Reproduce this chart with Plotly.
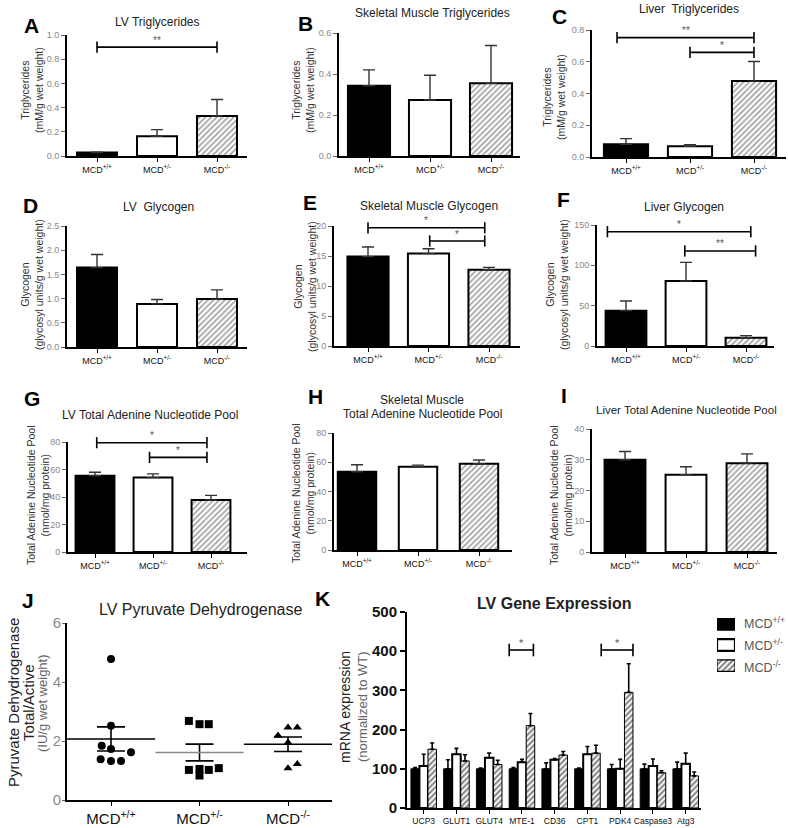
import plotly.graph_objects as go

W, H = 788, 828
FONT = "Arial, Liberation Sans, sans-serif"

groups = ["MCD<sup>+/+</sup>", "MCD<sup>+/-</sup>", "MCD<sup>-/-</sup>"]

# ---------------- data ----------------
lv_tg_mean = [0.028, 0.163, 0.331]
lv_tg_sem = [0.003, 0.055, 0.136]
sm_tg_mean = [0.343, 0.273, 0.355]
sm_tg_sem = [0.077, 0.121, 0.184]
liv_tg_mean = [0.080, 0.067, 0.478]
liv_tg_sem = [0.036, 0.011, 0.124]
lv_gly_mean = [1.64, 0.89, 0.99]
lv_gly_sem = [0.27, 0.09, 0.19]
sm_gly_mean = [14.9, 15.4, 12.7]
sm_gly_sem = [1.6, 0.8, 0.4]
liv_gly_mean = [43.8, 80.6, 10.3]
liv_gly_sem = [12.0, 23.1, 2.5]
lv_tan_mean = [55.4, 54.1, 37.8]
lv_tan_sem = [2.6, 2.7, 3.4]
sm_tan_mean = [53.5, 56.9, 59.0]
sm_tan_sem = [4.8, 1.1, 2.5]
liv_tan_mean = [30.0, 25.1, 28.9]
liv_tan_sem = [2.7, 2.6, 3.0]

# significance: (x_from, x_to, y, label)
sig_A = [(0, 2, 0.90, "**")]
sig_C = [(-0.14, 2.0, 0.752, "**"), (1.0, 2.0, 0.659, "*")]
sig_E = [(0, 1.93, 19.7, "*"), (1.02, 1.93, 17.5, "*")]
sig_F = [(-0.31, 2.08, 141.7, "*"), (0.98, 2.16, 117.8, "**")]
sig_G = [(0.03, 1.93, 79.5, "*"), (0.94, 1.93, 68.8, "*")]

# J: pyruvate dehydrogenase individual points
pdh_wt = [4.78, 2.52, 1.84, 1.73, 1.62, 1.38, 1.32, 1.32]
pdh_wt_jit = [0, 0, -0.105, 0, 0.226, -0.117, 0, 0.113]
pdh_het = [2.68, 2.57, 2.57, 1.05, 1.02, 1.02, 1.08, 0.83]
pdh_het_jit = [-0.12, 0, 0.105, 0, -0.12, 0.105, 0.218, 0]
pdh_ko = [2.19, 2.46, 2.46, 1.95, 1.08, 1.22]
pdh_ko_jit = [-0.113, 0, 0.105, 0, 0, 0.105]
pdh_mean = [2.07, 1.61, 1.89]
pdh_sem = [0.41, 0.285, 0.245]

# K: gene expression
genes = ["UCP3", "GLUT1", "GLUT4", "MTE-1", "CD36", "CPT1", "PDK4", "Caspase3", "Atg3"]
k_wt_mean = [100, 100, 100, 100, 100, 100, 100, 100, 100]
k_wt_sem = [3, 23, 2, 3, 15, 2, 11, 12, 17]
k_het_mean = [107, 137, 128, 117, 123, 137, 100, 107, 113]
k_het_sem = [30, 15, 12, 7, 3, 20, 24, 18, 27]
k_ko_mean = [150, 120, 111, 210, 135, 140, 295, 90, 82]
k_ko_sem = [16, 16, 11, 31, 9, 20, 73, 5, 10]
sig_K = [(3 - 0.39, 3 + 0.35, 403, "*"), (6 - 0.58, 6 + 0.39, 403, "*")]

# ---------------- geometry (pixels) ----------------
# left, right, top, bottom, first-centre, spacing, ymax, dtick, fmt
geo = {
    1: (67, 247, 35, 156, 97, 60, 1.0, 0.2, ".1f"),
    2: (339, 520, 33, 156, 369, 61, 0.6, 0.2, ".1f"),
    3: (592, 786, 30, 157, 626, 64, 0.8, 0.2, ".1f"),
    4: (67, 247, 226, 347, 97, 60, 2.5, 0.5, ".1f"),
    5: (334, 520, 226, 346, 368, 60.5, 20, 5, ""),
    6: (597, 774, 225, 346, 626, 60, 150, 50, ""),
    7: (68, 247, 442, 552, 95, 58, 80, 20, ""),
    8: (334, 512, 433, 550, 357, 61, 80, 20, ""),
    9: (592, 777, 429, 552, 625, 61, 40, 10, ""),
    10: (67, 332, 623, 800, 111, 88.5, 6, 2, ""),
    11: (407, 701, 612, 808, 423.7, 32.75, 500, 100, ""),
}

fig = go.Figure()
layout = dict(width=W, height=H, margin=dict(l=0, r=0, t=0, b=0, pad=0, autoexpand=False),
              autosize=False, showlegend=False,
              paper_bgcolor="white", plot_bgcolor="white", barmode="overlay",
              hovermode=False, font=dict(family=FONT, color="#222"))
annotations = []


def ax_names(i):
    return ("x" if i == 1 else f"x{i}"), ("y" if i == 1 else f"y{i}")


for i, g in geo.items():
    l, r, t, b, c0, sp, ymax, dt, fmt = g
    xa, ya = ax_names(i)
    xkey = "xaxis" if i == 1 else f"xaxis{i}"
    ykey = "yaxis" if i == 1 else f"yaxis{i}"
    big = i >= 10
    layout[xkey] = dict(domain=[l / W, r / W], anchor=ya,
                        range=[-(c0 - l) / sp, (r - c0) / sp], automargin=False,
                        showline=True, linecolor="black", linewidth=1.7 if not big else 2,
                        ticks="outside", ticklen=4, tickwidth=1.3, tickcolor="black",
                        showgrid=False, zeroline=False, fixedrange=True, tickangle=0,
                        tickfont=dict(size=9 if not big else (15 if i == 10 else 8.5), color="#111"))
    nt = int(round(ymax / dt))
    layout[ykey] = dict(domain=[1 - b / H, 1 - t / H], anchor=xa, range=[0, ymax],
                        tickvals=[k * dt for k in range(nt + 1)], automargin=False,
                        showline=True, linecolor="black", linewidth=1.7 if not big else 2,
                        ticks="outside", ticklen=4 if i != 11 else 5, tickwidth=1.3 if i != 11 else 2,
                        tickcolor="#666" if i != 11 else "black",
                        showgrid=False, zeroline=False, fixedrange=True,
                        tickfont=dict(size=9 if not big else 15,
                                      color="#888" if i != 11 else "#111",
                                      weight=700 if i == 11 else 400))
    if i == 10:
        layout[ykey]["ticklen"] = 3
        layout[ykey]["ticklabelstandoff"] = -2
    if fmt:
        layout[ykey]["tickformat"] = fmt
    if i <= 10:
        layout[xkey]["tickvals"] = [0, 1, 2]
        layout[xkey]["ticktext"] = groups
    else:
        layout[xkey]["tickvals"] = list(range(len(genes)))
        layout[xkey]["ticktext"] = genes

# hidden axis holding the legend swatches of panel K
layout["xaxis12"] = dict(domain=[717 / W, 735 / W], anchor="y12", range=[0, 1], visible=False,
                         fixedrange=True)
layout["yaxis12"] = dict(domain=[1 - 676 / H, 1 - 614 / H], anchor="x12", range=[2.5, -0.5],
                         visible=False, fixedrange=True)

bar_panels = [
    (1, lv_tg_mean, lv_tg_sem, sig_A, 0.667),
    (2, sm_tg_mean, sm_tg_sem, [], 0.69),
    (3, liv_tg_mean, liv_tg_sem, sig_C, 0.69),
    (4, lv_gly_mean, lv_gly_sem, [], 0.667),
    (5, sm_gly_mean, sm_gly_sem, sig_E, 0.68),
    (6, liv_gly_mean, liv_gly_sem, sig_F, 0.68),
    (7, lv_tan_mean, lv_tan_sem, sig_G, 0.67),
    (8, sm_tan_mean, sm_tan_sem, [], 0.63),
    (9, liv_tan_mean, liv_tan_sem, [], 0.67),
]


def add_sig(i, sigs, capsize=8, fs=10):
    xa, ya = ax_names(i)
    for x0, x1, yv, lab in sigs:
        fig.add_trace(go.Scatter(x=[x0, x1], y=[yv, yv], xaxis=xa, yaxis=ya, mode="lines+markers",
                                 line=dict(color="black", width=1.6),
                                 marker=dict(symbol="line-ns", size=capsize,
                                             line=dict(color="black", width=1.6)),
                                 cliponaxis=False))
        annotations.append(dict(x=(x0 + x1) / 2, y=yv, xref=xa, yref=ya, text=lab,
                                showarrow=False, yshift=7, font=dict(size=fs, color="#555")))


for i, m, s, sig, wd in bar_panels:
    xa, ya = ax_names(i)
    fig.add_trace(go.Bar(x=[0, 1, 2], y=m, xaxis=xa, yaxis=ya, width=wd,
                         marker=dict(color=["black", "white", "white"],
                                     line=dict(color="black", width=2),
                                     pattern=dict(shape=["", "", "/"], fgcolor="black",
                                                  size=4, solidity=0.42)),
                         error_y=dict(type="data", array=s, arrayminus=[0, 0, 0], symmetric=False,
                                      width=6, thickness=1.4, color="#333")))
    add_sig(i, sig)

# ---------------- J ----------------
for k, (vals, jit, sym) in enumerate([(pdh_wt, pdh_wt_jit, "circle"),
                                      (pdh_het, pdh_het_jit, "square"),
                                      (pdh_ko, pdh_ko_jit, "triangle-up")]):
    fig.add_trace(go.Scatter(x=[k + j for j in jit], y=vals, xaxis="x10", yaxis="y10",
                             mode="markers", marker=dict(symbol=sym, size=8, color="black"),
                             cliponaxis=False))
    fig.add_trace(go.Scatter(x=[k], y=[pdh_mean[k]], xaxis="x10", yaxis="y10", mode="markers",
                             marker=dict(symbol="line-ew", size=63,
                                         line=dict(color="#888" if k == 1 else "black", width=1.6)),
                             error_y=dict(type="data", array=[pdh_sem[k]], width=14,
                                          thickness=1.6, color="black")))

# ---------------- K ----------------
k_series = [
    (groups[0], k_wt_mean, k_wt_sem, "black", "", 1.0, -0.39),
    (groups[1], k_het_mean, k_het_sem, "white", "", 2.0, -0.13),
    (groups[2], k_ko_mean, k_ko_sem, "white", "/", 1.0, 0.13),
]
for j, (name, m, s, col, pat, lw, off) in enumerate(k_series):
    mk = dict(color=col, line=dict(color="black", width=lw),
              pattern=dict(shape=pat, fgcolor="black", size=4, solidity=0.5))
    fig.add_trace(go.Bar(x=list(range(len(genes))), y=m, xaxis="x11", yaxis="y11", name=name,
                         width=0.26, offset=off, marker=mk,
                         error_y=dict(type="data", array=s, arrayminus=[0] * len(genes),
                                      symmetric=False, width=2, thickness=1.6, color="black")))
    # legend swatch
    fig.add_trace(go.Bar(x=[1], y=[j], orientation="h", xaxis="x12", yaxis="y12", width=0.56,
                         marker=dict(color=col, line=dict(color="black", width=2.2 if j == 1 else 1.2),
                                     pattern=dict(shape=pat, fgcolor="black", size=4, solidity=0.5))))
    annotations.append(dict(x=742 / W, y=1 - (623 + 22 * j) / H, xref="paper", yref="paper",
                            text=name, showarrow=False, xanchor="left", yanchor="middle",
                            font=dict(size=12.5, color="#555", family=FONT)))
add_sig(11, sig_K, capsize=9, fs=11)


# ---------------- text ----------------
def ann(x, y, text, size, color="#222", bold=False, angle=0, xanchor="center"):
    annotations.append(dict(x=x / W, y=1 - y / H, xref="paper", yref="paper",
                            text=f"<b>{text}</b>" if bold else text, showarrow=False,
                            textangle=angle, xanchor=xanchor, yanchor="middle",
                            font=dict(size=size, color=color, family=FONT)))


for lab, x, y in [("A", 32, 25), ("B", 305, 23), ("C", 559, 17), ("D", 30, 205), ("E", 310, 203),
                  ("F", 563, 200), ("G", 32, 398), ("H", 315, 396), ("I", 564, 395),
                  ("J", 28, 600), ("K", 322, 598)]:
    ann(x, y, lab, 21, "black", bold=True)

TS = 12
ann(157, 22, "LV Triglycerides", TS)
ann(432, 13, "Skeletal Muscle Triglycerides", TS)
ann(689, 9, "Liver  Triglycerides", TS)
ann(158, 207, "LV  Glycogen", TS)
ann(429, 206, "Skeletal Muscle Glycogen", TS)
ann(684, 207, "Liver Glycogen", TS)
ann(150, 415, "LV Total Adenine Nucleotide Pool", TS)
ann(422, 400, "Skeletal Muscle", TS)
ann(422, 414, "Total Adenine Nucleotide Pool", TS)
ann(686, 410, "Liver Total Adenine Nucleotide Pool", 11.5)
ann(200, 609, "LV Pyruvate Dehydrogenase", 16)
ann(554, 603, "LV Gene Expression", 16, bold=True)

tg = "Triglycerides<br>(mM/g wet weight)"
gy = "Glycogen<br>(glycosyl units/g wet weight)"
tn = "Total Adenine Nucleotide Pool<br>(nmol/mg protein)"
for x, y, t in [(32, 90, tg), (303, 90, tg), (554, 97, tg),
                (32, 285, gy), (305, 287, gy), (557, 285, gy),
                (38, 495, tn), (303, 493, tn), (561, 495, tn)]:
    ann(x, y, t, 10.5, "#333", angle=-90)

ann(13, 703, "Pyruvate Dehydrogenase", 15, "#222", angle=-90)
ann(28, 703, "Total/Active", 15, "#222", angle=-90)
ann(42, 703, "(IU/g wet weight)", 13, "#666", angle=-90)
ann(345, 707, "mRNA expression", 14, "#222", angle=-90)
ann(362, 707, "(normalized to WT)", 13, "#666", angle=-90)

layout["annotations"] = annotations
fig.update_layout(**layout)
fig.write_html("out.html", config={"displayModeBar": False},
               post_script="document.body.style.margin='0px';")
